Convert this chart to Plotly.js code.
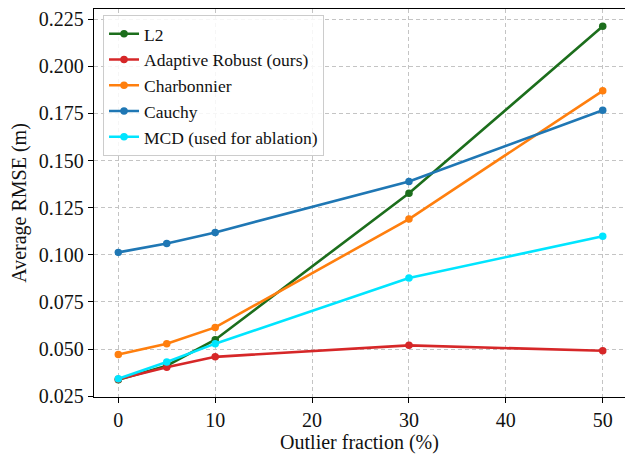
<!DOCTYPE html>
<html>
<head>
<meta charset="utf-8">
<script src="https://cdn.plot.ly/plotly-3.0.1.min.js"></script>
<style>
html,body{margin:0;padding:0;background:#fff;}
#chart{width:625px;height:454px;}
svg text{font-family:"Liberation Serif" !important;}
</style>
</head>
<body>
<div id="chart"></div>
<script>
const outlierFraction = [0, 5, 10, 30, 50];
const seriesNames = ["L2", "Adaptive Robust (ours)", "Charbonnier", "Cauchy", "MCD (used for ablation)"];
const l2 = [0.0338, 0.0412, 0.0550, 0.1327, 0.2212];
const adaptiveRobust = [0.0340, 0.0404, 0.0459, 0.0520, 0.0491];
const charbonnier = [0.0471, 0.0529, 0.0615, 0.1190, 0.1870];
const cauchy = [0.1013, 0.1060, 0.1119, 0.1389, 0.1767];
const mcd = [0.0343, 0.0432, 0.0529, 0.0877, 0.1099];
const seriesColors = ["#1c6e1c", "#d62728", "#ff7f0e", "#1f77b4", "#00e5ff"];
const seriesValues = [l2, adaptiveRobust, charbonnier, cauchy, mcd];
const yTicks = [0.025, 0.050, 0.075, 0.100, 0.125, 0.150, 0.175, 0.200, 0.225];
const xTicks = [0, 10, 20, 30, 40, 50];

const serifFont = "Liberation Serif";
const traces = seriesValues.map((vals, i) => ({
  x: outlierFraction, y: vals, name: seriesNames[i], type: "scatter", mode: "lines+markers",
  line: {color: seriesColors[i], width: 2.6},
  marker: {color: seriesColors[i], size: 7.5}
}));

const layout = {
  width: 625, height: 454,
  margin: {l: 94, r: 0, t: 9, b: 57},
  paper_bgcolor: "#fff", plot_bgcolor: "#fff",
  font: {family: serifFont, color: "#222", size: 19},
  showlegend: true,
  legend: {
    x: 0.017, y: 0.985, xanchor: "left", yanchor: "top",
    bgcolor: "rgba(255,255,255,0.85)", bordercolor: "#cccccc", borderwidth: 1,
    font: {family: serifFont, size: 17.5, color: "#111"},
    tracegroupgap: 0
  },
  xaxis: {
    range: [-2.51, 52.3], tickvals: xTicks, ticktext: xTicks.map(String),
    showgrid: true, gridcolor: "#c4c4c4", griddash: "4px,3px", gridwidth: 1,
    showline: true, linecolor: "#000", linewidth: 1.2, mirror: true,
    ticks: "outside", ticklen: 5, tickcolor: "#000", zeroline: false,
    tickfont: {family: serifFont, size: 20, color: "#111"},
    title: {text: "Outlier fraction (%)", font: {family: serifFont, size: 20, color: "#111"}, standoff: 4}
  },
  yaxis: {
    range: [0.0246, 0.2304], tickvals: yTicks, ticktext: yTicks.map(v => v.toFixed(3)),
    showgrid: true, gridcolor: "#c4c4c4", griddash: "4px,3px", gridwidth: 1,
    showline: true, linecolor: "#000", linewidth: 1.2, mirror: true,
    ticks: "outside", ticklen: 5, tickcolor: "#000", zeroline: false,
    tickfont: {family: serifFont, size: 20, color: "#111"},
    title: {text: "Average RMSE (m)", font: {family: serifFont, size: 20, color: "#111"}, standoff: 6}
  }
};
Plotly.newPlot("chart", traces, layout, {displayModeBar: false, staticPlot: true});
</script>
</body>
</html>
